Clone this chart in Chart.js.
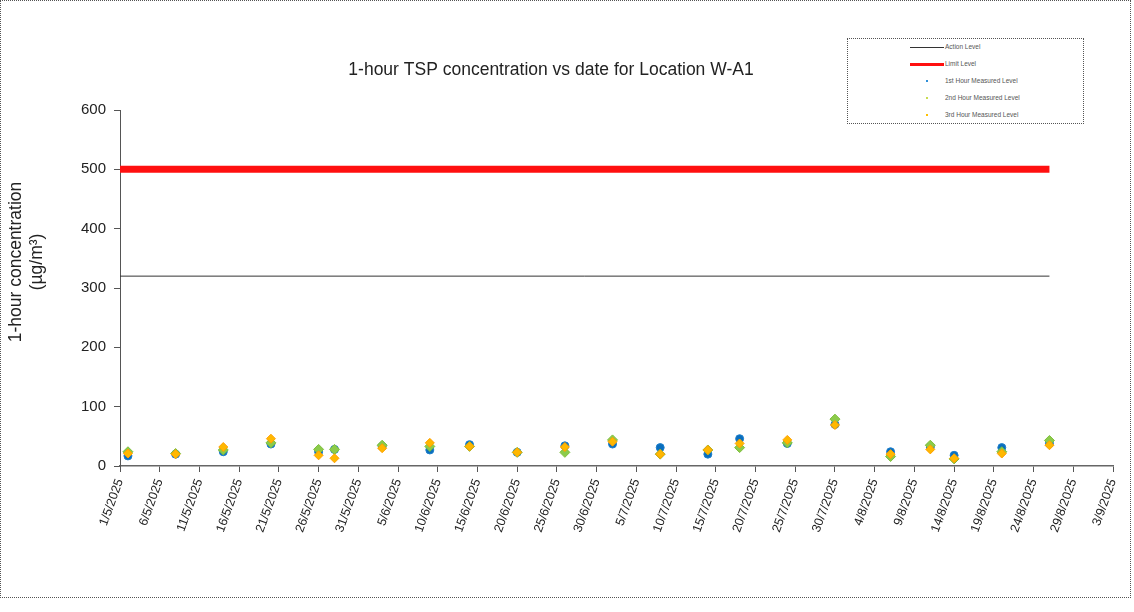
<!DOCTYPE html>
<html>
<head>
<meta charset="utf-8">
<script src="https://cdn.jsdelivr.net/npm/chart.js@4.4.1/dist/chart.umd.min.js"></script>
<style>
  html, body { margin: 0; padding: 0; background: #fff; }
  #wrap { position: relative; width: 1134px; height: 612px; font-family: "Liberation Sans", Arial, sans-serif; }
  #frame { position: absolute; left: 0; top: 0; width: 1129px; height: 596px; border: 1px dotted #555; pointer-events: none; }
  #chart { position: absolute; left: 0; top: 0; }
  #legend { position: absolute; left: 847px; top: 38px; width: 235px; height: 84px; border: 1px dotted #555; background: #fff; }
  .row { position: absolute; left: 0; height: 10px; width: 235px; }
  .row .txt { position: absolute; left: 97px; top: 0; font-size: 6.5px; line-height: 10px; color: #555; white-space: nowrap; }
  .row .sw { position: absolute; }
</style>
</head>
<body>
<div id="wrap">
  <canvas id="chart" width="1134" height="612"></canvas>
  <div id="legend"></div>
  <div id="frame"></div>
</div>
<script>
// Sampling dates (d/m/yyyy) and the three hourly TSP readings, µg/m³
const sampleDates = ['2/5/2025','8/5/2025','14/5/2025','20/5/2025','26/5/2025','28/5/2025',
  '3/6/2025','9/6/2025','14/6/2025','20/6/2025','26/6/2025','2/7/2025','8/7/2025','14/7/2025',
  '18/7/2025','24/7/2025','30/7/2025','6/8/2025','11/8/2025','14/8/2025','20/8/2025','26/8/2025'];
const hour1 = [17, 20, 24, 37, 24, 28, 33, 27, 36, 23, 34, 37, 31, 20, 46, 38, 70, 24, 32, 18, 31, 38];
const hour2 = [24, 21, 27, 39, 28, 28, 35, 33, 33, 23, 23, 44, 20, 27, 31, 39, 79, 16, 35, 12, 24, 43];
const hour3 = [21, 20, 32, 46, 18, 13, 30, 39, 33, 23, 32, 41, 20, 27, 38, 44, 69, 20, 28, 13, 21, 35];

// Action / Limit levels span the monitoring period
const levelDates = ['1/5/2025', '26/8/2025'];
const actionLevel = [320, 320];
const limitLevel = [500, 500];

// Axis settings
const axisStart = '1/5/2025';
const axisDays = 125;
const tickStepDays = 5;
const yTicks = [0, 100, 200, 300, 400, 500, 600];

const DAY = 86400000;
function parseDate(s) {
  const [d, m, y] = s.split('/').map(Number);
  return Date.UTC(y, m - 1, d);
}
const origin = parseDate(axisStart);
const dayOf = s => Math.round((parseDate(s) - origin) / DAY);
function labelOf(v) {
  const dt = new Date(origin + v * DAY);
  return dt.getUTCDate() + '/' + (dt.getUTCMonth() + 1) + '/' + dt.getUTCFullYear();
}
const pts = (dates, vals) => dates.map((d, i) => ({ x: dayOf(d), y: vals[i] }));

const FONT = '"Liberation Sans", Arial, sans-serif';

const titles = {
  id: 'titles',
  afterDraw(chart) {
    const c = chart.ctx;
    c.save();
    c.fillStyle = '#222';
    c.textAlign = 'center';
    c.textBaseline = 'middle';
    c.font = '17.5px ' + FONT;
    c.fillText('1-hour TSP concentration vs date for Location W-A1', 551, 70);
    c.translate(0, 262);
    c.rotate(-Math.PI / 2);
    c.fillText('1-hour concentration', 0, 16);
    c.fillText('(µg/m³)', 0, 37);
    c.restore();
  }
};

new Chart(document.getElementById('chart'), {
  type: 'scatter',
  data: {
    datasets: [
      { label: '3rd Hour Measured Level', data: pts(sampleDates, hour3), order: 1,
        pointStyle: 'rectRot', pointRadius: 4.5, backgroundColor: '#FFB800', borderColor: '#FFA000', borderWidth: 1 },
      { label: '2nd Hour Measured Level', data: pts(sampleDates, hour2), order: 2,
        pointStyle: 'rectRot', pointRadius: 5, backgroundColor: '#8CCB4A', borderColor: '#7DBE3C', borderWidth: 1 },
      { label: '1st Hour Measured Level', data: pts(sampleDates, hour1), order: 3,
        pointStyle: 'circle', pointRadius: 4, backgroundColor: '#0A6EBD', borderColor: '#1E7FCB', borderWidth: 1 },
      { label: 'Action Level', data: pts(levelDates, actionLevel), order: 4, showLine: true,
        borderColor: '#333', borderWidth: 1, pointRadius: 0 },
      { label: 'Limit Level', data: pts(levelDates, limitLevel), order: 5, showLine: true,
        borderColor: '#FF1010', borderWidth: 7, pointRadius: 0 }
    ]
  },
  options: {
    responsive: false,
    animation: false,
    layout: { padding: { left: 0, top: 110, right: 21, bottom: 0 } },
    plugins: { legend: { display: false }, tooltip: { enabled: false }, title: { display: false } },
    scales: {
      x: {
        type: 'linear', min: 0, max: axisDays,
        afterFit: s => { s.height = 146; },
        afterBuildTicks: s => { s.ticks = []; for (let v = 0; v <= axisDays; v += tickStepDays) s.ticks.push({ value: v }); },
        border: { color: '#666', width: 1.5 },
        grid: { drawOnChartArea: false, drawTicks: true, tickLength: 6, color: '#555' },
        ticks: { autoSkip: false, minRotation: 70, maxRotation: 70, padding: 5, color: '#222',
          font: { family: FONT, size: 12.5 }, callback: v => labelOf(v) }
      },
      y: {
        min: 0, max: 600,
        afterFit: s => { s.width = 120; },
        afterBuildTicks: s => { s.ticks = yTicks.map(v => ({ value: v })); },
        border: { color: '#555', width: 1 },
        grid: { drawOnChartArea: false, drawTicks: true, tickLength: 6, color: '#555' },
        ticks: { padding: 8, color: '#222', font: { family: FONT, size: 15 } }
      }
    }
  },
  plugins: [titles]
});

// Legend box entries
const legendItems = [
  { text: 'Action Level', kind: 'line', color: '#333', w: 1 },
  { text: 'Limit Level', kind: 'line', color: '#FF1010', w: 3 },
  { text: '1st Hour Measured Level', kind: 'dot', color: '#2F8FD8' },
  { text: '2nd Hour Measured Level', kind: 'dot', color: '#C8DC50' },
  { text: '3rd Hour Measured Level', kind: 'dot', color: '#FFC000' }
];
const lg = document.getElementById('legend');
legendItems.forEach((it, i) => {
  const row = document.createElement('div');
  row.className = 'row';
  row.style.top = (3 + i * 17) + 'px';
  const sw = document.createElement('div');
  sw.className = 'sw';
  if (it.kind === 'line') {
    sw.style.left = '62px'; sw.style.width = '34px';
    sw.style.top = (5 - it.w / 2) + 'px'; sw.style.height = it.w + 'px';
  } else {
    sw.style.left = '78px'; sw.style.width = '2px'; sw.style.top = '4px'; sw.style.height = '2px';
  }
  sw.style.background = it.color;
  const t = document.createElement('div');
  t.className = 'txt';
  t.textContent = it.text;
  row.appendChild(sw); row.appendChild(t);
  lg.appendChild(row);
});
</script>
</body>
</html>
